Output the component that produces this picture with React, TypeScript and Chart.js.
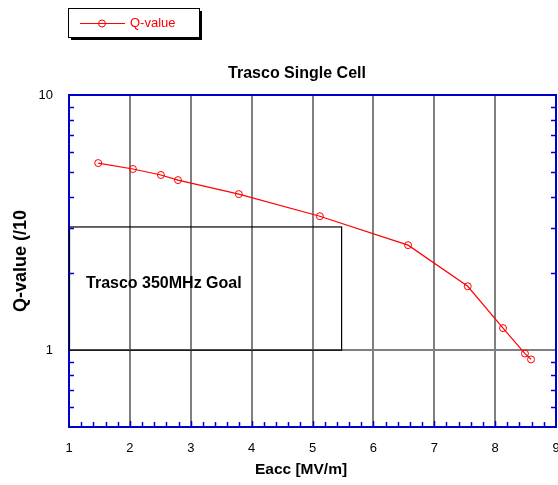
import React, { useEffect, useRef } from "react";
import { Chart, registerables } from "chart.js";

Chart.register(...registerables);

// ---- data ----
const EACC = [1.48, 2.05, 2.51, 2.79, 3.79, 5.12, 6.57, 7.55, 8.13, 8.49, 8.59];
const QVALUE = [5.41, 5.13, 4.86, 4.64, 4.09, 3.35, 2.58, 1.78, 1.22, 0.97, 0.92];
const SERIES_NAME = "Q-value";
const CHART_TITLE = "Trasco Single Cell";
const X_TITLE = "Eacc [MV/m]";
const Y_TITLE = "Q-value (/10";
const X_RANGE = [1, 9];
const Y_RANGE = [0.5, 10];
const Y_TICK_LABELS = [1, 10];
const Y_MINOR_TICKS = [0.6, 0.7, 0.8, 0.9, 2, 3, 4, 5, 6, 7, 8, 9];
const X_MINOR_STEP = 0.2;
const GOAL_X = [1, 5.47];
const GOAL_Y = [1, 3.04];
const GOAL_LABEL = "Trasco 350MHz Goal";
const GOAL_LABEL_AT = [1.28, 1.83];

const BLUE = "#0000cc";
const GRID = "#808080";
const RED = "#ff0000";
const FONT = "'Liberation Sans', Arial, sans-serif";

const overlayPlugin = {
  id: "overlay",
  beforeDatasetsDraw(chart: any) {
    const { ctx, scales } = chart;
    const x = scales.x, y = scales.y;
    ctx.save();
    // goal box
    const x0 = x.getPixelForValue(GOAL_X[0]);
    const x1 = x.getPixelForValue(GOAL_X[1]);
    const y0 = y.getPixelForValue(GOAL_Y[0]);
    const y1 = y.getPixelForValue(GOAL_Y[1]);
    ctx.strokeStyle = "#000";
    ctx.lineWidth = 1.2;
    ctx.strokeRect(x0 + 0.5, y1, x1 - x0, y0 - y1);
    ctx.fillStyle = "#000";
    ctx.font = `bold 16px ${FONT}`;
    ctx.textAlign = "left";
    ctx.textBaseline = "middle";
    ctx.fillText(GOAL_LABEL, x.getPixelForValue(GOAL_LABEL_AT[0]), y.getPixelForValue(GOAL_LABEL_AT[1]));
    ctx.restore();
  },
  afterDraw(chart: any) {
    const { ctx, scales, chartArea } = chart;
    const x = scales.x, y = scales.y;
    const { left, right, top, bottom } = chartArea;
    ctx.save();
    ctx.strokeStyle = BLUE;
    ctx.lineWidth = 2;
    // top + right border
    ctx.beginPath();
    ctx.moveTo(left, top);
    ctx.lineTo(right, top);
    ctx.lineTo(right, bottom);
    ctx.stroke();
    // y minor ticks, both sides
    ctx.lineWidth = 1.5;
    ctx.beginPath();
    for (const v of Y_MINOR_TICKS) {
      const py = Math.round(y.getPixelForValue(v)) + 0.5;
      ctx.moveTo(left, py);
      ctx.lineTo(left + 5, py);
      ctx.moveTo(right, py);
      ctx.lineTo(right - 5, py);
    }
    // x minor ticks along the bottom
    const n = Math.round((X_RANGE[1] - X_RANGE[0]) / X_MINOR_STEP);
    for (let i = 1; i < n; i++) {
      const v = X_RANGE[0] + i * X_MINOR_STEP;
      const px = Math.round(x.getPixelForValue(v)) + 0.5;
      const major = i % 5 === 0;
      ctx.moveTo(px, bottom);
      ctx.lineTo(px, bottom - (major ? 6 : 5));
    }
    ctx.stroke();

    // chart title and x-axis title
    ctx.fillStyle = "#000";
    ctx.textAlign = "center";
    ctx.textBaseline = "middle";
    ctx.font = `bold 16px ${FONT}`;
    ctx.fillText(CHART_TITLE, 297, 74);
    ctx.font = `bold 15.5px ${FONT}`;
    ctx.fillText(X_TITLE, 301, 470);

    // legend box
    const bx = 68, by = 8, bw = 131, bh = 29;
    ctx.fillStyle = "#000";
    ctx.fillRect(bx + 3, by + 3, bw, bh);
    ctx.fillStyle = "#fff";
    ctx.fillRect(bx, by, bw, bh);
    ctx.strokeStyle = "#000";
    ctx.lineWidth = 1;
    ctx.strokeRect(bx + 0.5, by + 0.5, bw, bh);
    const ly = by + 15.5;
    ctx.strokeStyle = RED;
    ctx.lineWidth = 1;
    ctx.beginPath();
    ctx.moveTo(80, ly);
    ctx.lineTo(125, ly);
    ctx.stroke();
    ctx.beginPath();
    ctx.arc(102, ly, 3.5, 0, Math.PI * 2);
    ctx.stroke();
    ctx.fillStyle = RED;
    ctx.font = `13px ${FONT}`;
    ctx.textAlign = "left";
    ctx.textBaseline = "middle";
    ctx.fillText(SERIES_NAME, 130, ly);
    ctx.restore();
  },
};

export default function App() {
  const ref = useRef<HTMLCanvasElement | null>(null);
  useEffect(() => {
    document.body.style.margin = "0";
    const canvas = ref.current!;
    const chart = new Chart(canvas, {
      type: "line",
      data: {
        datasets: [
          {
            label: SERIES_NAME,
            data: EACC.map((e, i) => ({ x: e, y: QVALUE[i] })),
            borderColor: RED,
            borderWidth: 1.2,
            pointRadius: 3.5,
            pointBorderWidth: 1,
            pointBorderColor: RED,
            pointBackgroundColor: "rgba(0,0,0,0)",
            fill: false,
            tension: 0,
          },
        ],
      },
      options: {
        responsive: false,
        animation: false,
        devicePixelRatio: 1,
        layout: { autoPadding: false, padding: { top: 95, right: 2, left: 0, bottom: 0 } },
        plugins: {
          legend: { display: false },
          tooltip: { enabled: false },
          title: { display: false },
        },
        scales: {
          x: {
            type: "linear",
            min: X_RANGE[0],
            max: X_RANGE[1],
            ticks: {
              stepSize: 1,
              color: "#000",
              font: { family: FONT, size: 13 },
              padding: 14,
              maxRotation: 0,
            },
            grid: { color: GRID, lineWidth: 2, drawTicks: false },
            border: { color: BLUE, width: 2 },
            title: { display: false },
            afterFit: (s: any) => {
              s.height = 58;
              s.paddingLeft = 0;
              s.paddingRight = 0;
            },
          },
          y: {
            type: "logarithmic",
            min: Y_RANGE[0],
            max: Y_RANGE[1],
            ticks: {
              autoSkip: false,
              color: "#000",
              font: { family: FONT, size: 13 },
              padding: 16,
              callback: (v: any) => (Y_TICK_LABELS.includes(Number(v)) ? String(v) : ""),
            },
            grid: {
              drawTicks: false,
              lineWidth: 2,
              color: (c: any) => (c.tick && c.tick.value === 1 ? GRID : "rgba(0,0,0,0)"),
            },
            border: { color: BLUE, width: 2 },
            title: {
              display: true,
              text: Y_TITLE,
              color: "#000",
              font: { family: FONT, size: 18, weight: "bold" },
              padding: { top: 10, bottom: 0 },
            },
            afterFit: (s: any) => {
              s.width = 69;
              s.paddingTop = 0;
              s.paddingBottom = 0;
            },
          },
        },
      },
      plugins: [overlayPlugin],
    } as any);
    return () => chart.destroy();
  }, []);
  return (
    <div style={{ position: "fixed", left: 0, top: 0, width: 558, height: 485, background: "#fff" }}>
      <canvas ref={ref} width={558} height={485} style={{ width: 558, height: 485, display: "block" }} />
    </div>
  );
}
